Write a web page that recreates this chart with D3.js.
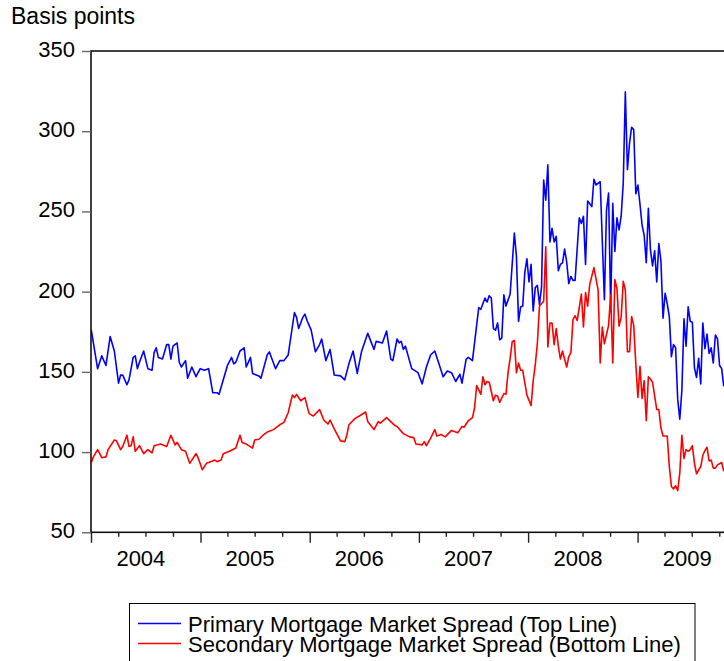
<!DOCTYPE html>
<html>
<head>
<meta charset="utf-8">
<script src="https://cdn.jsdelivr.net/npm/d3@7"></script>
<style>
  body { margin: 0; background: #fff; }
  text { font-family: "Liberation Sans", Arial, sans-serif; }
</style>
</head>
<body>
<script>
const width = 724, height = 661;

// weekly data, week index counted from the first Friday of 2004
const startDate = new Date(2004, 0, 2);

// [week, basis points]
const primary = [[0,176],[3,152],[5,160],[7,154],[9,172],[11,163],[13,143],[14,148],[15,148],[17,142],[18,145],[20,159],[21,160],[22,152],[23,156],[25,163],[27,152],[29,151],[30,162],[31,165],[32,159],[34,158],[36,167],[37,167],[38,158],[39,166],[41,168],[42,156],[43,153],[45,157],[46,146],[48,153],[50,147],[52,152],[54,151],[56,152],[58,137],[60,137],[61,136],[65,154],[67,159],[68,155],[69,156],[71,163],[73,165],[74,153],[76,159],[77,149],[80,147.5],[81,146],[84,160.5],[85,162.5],[88,152],[90,157],[92,157],[94,160.5],[97,187],[98,184],[99,177],[101,184],[102,186],[103,182],[105,176],[107,162.5],[109,167],[110,170.5],[112,157],[114,164],[116,148],[119,147.5],[121,145],[123,155],[125,163],[127,149],[129,162.5],[132,174],[135,164],[136,169],[139,168],[141,175.5],[143,158],[144,157],[146,170.5],[147,168],[148,169],[149,164],[150,166],[153,152],[156,149.5],[158,142.5],[160,153],[162,160.5],[164,163],[166,155],[168,147],[170,150.5],[172,149.5],[174,144],[176,148.5],[177,143],[179,158],[180,159],[182,157],[185,190],[186,189],[188,196],[189,193.5],[190,197.5],[191,196],[192,177],[193,176],[194,180.5],[195,170],[196,171],[197,198],[198,191],[200,198.5],[202,236.5],[203,222],[204,181.5],[205,190.5],[206,191],[207,212],[208,220.5],[209,206],[210,217],[211,188],[212,202.5],[213,204],[214,192],[215,203],[216,269.5],[217,257],[218,279],[219,231],[220,239.5],[221,231],[222,234.5],[223,213],[224,217],[225,218],[226,226.5],[227,218.5],[228,205],[229,209.5],[230,207],[231,207],[233,246],[234,242.5],[235,247],[236,217],[237,256.5],[239,253],[240,270],[241,266.5],[243,268.5],[245,195],[246,250.5],[247,261.5],[248,190],[249,255],[250,225],[251,246],[252,238.5],[253,247],[254,267.5],[255,324.5],[256,276],[257,292.5],[258,302.5],[259,301],[260,261],[261,266.5],[262,254.5],[263,241.5],[264,235],[265,218],[266,252],[267,226],[268,216],[269,225.5],[270,206],[271,230],[272,219],[273,183.5],[274,199],[275,192.5],[276,184.5],[277,159.5],[278,167],[279,165],[280,133],[281,120.5],[282,138.5],[283,183],[284,166],[285,190.5],[286,181.5],[287,181],[288,152.5],[289,146.5],[290,158.5],[291,142.5],[292,180.5],[293,164.5],[294,173.5],[295,161.5],[296,165],[297,155.5],[298,173],[299,170.5],[300,154],[301,152],[302,141]];

const secondary = [[0,93.5],[1,97],[3,101.5],[5,96.5],[7,97],[8,101.5],[11,107.5],[12,107],[14,101.5],[15,103.5],[17,110.5],[18,103.5],[19,104],[20,109.5],[21,100.5],[23,104],[25,99],[27,101.5],[29,99.5],[30,104],[33,105],[34,104.5],[36,103.5],[38,110.5],[40,104.5],[41,106],[43,101.5],[45,100.5],[47,93],[50,99],[51,96.5],[53,89],[55,93],[57,94],[59,95],[60,94],[62,95],[63,99],[66,100.5],[69,102.5],[71,110.5],[72,106],[74,105],[77,102.5],[78,107.5],[80,108],[82,110.5],[84,112.5],[87,114],[90,117],[92,118.5],[94,124.5],[96,135.5],[97,134],[98,136],[100,132],[102,134],[104,124],[106,122.5],[109,126.5],[111,120],[113,117.5],[114,120],[116,114.5],[119,107],[121,106.5],[122,110.5],[123,117],[126,121],[128,122.5],[131,125],[132,119],[135,114],[137,119],[138,118],[141,121.5],[143,119],[145,116.5],[146,116],[149,111.5],[152,109.5],[154,109],[155,105],[158,104.5],[159,106.5],[160,104],[162,108.5],[164,114],[165,110],[167,111],[169,109.5],[172,113.5],[175,112],[177,116],[178,115.5],[180,119.5],[182,121.5],[183,127.5],[184,141.5],[186,136],[187,147],[188,142],[189,144],[190,143.5],[192,132],[193,135.5],[194,135],[195,131],[197,136.5],[198,136],[199,149.5],[200,158.5],[201,169],[202,169.5],[203,149.5],[204,155.5],[205,151],[206,151],[208,135.5],[210,129],[211,144.5],[212,154.5],[213,168],[214,191],[216,194],[217,228],[218,165.5],[219,180.5],[220,180.5],[221,167],[222,177],[223,166],[224,158],[225,163],[227,153],[228,159.5],[229,162],[230,182.5],[231,185],[232,182],[234,198.5],[235,178],[236,199.5],[237,191],[238,204.5],[240,215],[242,201],[243,155.5],[244,178],[245,167.5],[247,179],[248,198],[249,155.5],[250,207.5],[251,202],[252,178.5],[253,184],[254,206.5],[255,201],[256,162.5],[257,162.5],[258,184.5],[259,179],[260,155],[261,134],[262,153.5],[263,133.5],[264,144.5],[265,119.5],[266,147],[267,145.5],[268,143.5],[270,126.5],[271,126.5],[272,115],[273,110],[275,110],[276,91],[277,78.5],[278,77],[279,79],[280,76],[281,87],[282,110.5],[283,96],[284,101.5],[285,100.5],[286,101.5],[287,104],[288,93],[289,86.5],[291,91],[292,98],[293,101],[294,103],[295,94.5],[296,95],[297,90],[298,90],[299,92],[301,93.5],[302,88]];

const yTicks = [50, 100, 150, 200, 250, 300, 350];
const years = [2004, 2005, 2006, 2007, 2008, 2009];
const legendLabels = ["Primary Mortgage Market Spread (Top Line)", "Secondary Mortgage Market Spread (Bottom Line)"];
const colors = ["#0000ff", "#ff0000"];

const plotLeft = 91, plotTop = 51, plotBottom = 532.3;
const yearPx = 109.3;

const svg = d3.select("body").append("svg")
    .attr("width", width)
    .attr("height", height);

const x = d3.scaleTime()
    .domain([new Date(2004, 0, 1), new Date(2010, 0, 1)])
    .range([plotLeft, plotLeft + 6 * yearPx]);

const y = d3.scaleLinear()
    .domain([50, 350])
    .range([plotBottom, plotTop]);

const toDate = w => d3.timeDay.offset(startDate, 7 * w);

svg.append("text")
    .attr("x", 11)
    .attr("y", 24)
    .attr("font-size", 23)
    .attr("fill", "#000")
    .text("Basis points");

// plot lines, clipped to the frame
svg.append("clipPath").attr("id", "plot")
  .append("rect")
    .attr("x", plotLeft).attr("y", plotTop)
    .attr("width", 6 * yearPx).attr("height", plotBottom - plotTop);

const line = d3.line()
    .x(d => x(toDate(d[0])))
    .y(d => y(d[1]));

const series = [primary, secondary];
svg.append("g").attr("clip-path", "url(#plot)")
  .selectAll("path")
  .data(series)
  .join("path")
    .attr("d", line)
    .attr("fill", "none")
    .attr("stroke", (d, i) => colors[i])
    .attr("stroke-width", 1.6)
    .attr("stroke-linejoin", "round");

// frame
svg.append("rect")
    .attr("x", plotLeft).attr("y", plotTop)
    .attr("width", 6 * yearPx).attr("height", plotBottom - plotTop)
    .attr("fill", "none")
    .attr("stroke", "#111")
    .attr("stroke-width", 1.6);

// y axis
const yAxis = svg.append("g")
    .attr("transform", `translate(${plotLeft},0)`)
    .call(d3.axisLeft(y).tickValues(yTicks).tickSize(9).tickPadding(7));
yAxis.select(".domain").remove();
yAxis.selectAll("line").attr("stroke", "#666").attr("stroke-width", 1.4);
yAxis.selectAll("text")
    .attr("font-size", 22)
    .attr("font-family", "'Liberation Sans', Arial, sans-serif")
    .attr("fill", "#000")
    .attr("dy", "0.25em");

// x axis: quarterly ticks, longer at the year boundaries
const xAxis = svg.append("g")
    .attr("transform", `translate(0,${plotBottom})`)
    .call(d3.axisBottom(x)
        .tickValues(d3.timeMonth.range(new Date(2004, 0, 1), new Date(2010, 0, 1), 3))
        .tickSize(4.5)
        .tickFormat(""));
xAxis.select(".domain").remove();
xAxis.selectAll("line")
    .attr("stroke", "#222")
    .attr("stroke-width", 1.4)
    .attr("y2", d => d.getMonth() === 0 ? 10.5 : 4.5);

const xLabels = svg.append("g")
    .attr("transform", `translate(0,${plotBottom})`)
    .call(d3.axisBottom(x)
        .tickValues(years.map(yr => new Date(yr, 5, 14)))
        .tickSize(0)
        .tickPadding(18)
        .tickFormat(d3.timeFormat("%Y")));
xLabels.select(".domain").remove();
xLabels.selectAll("text")
    .attr("font-size", 22)
    .attr("font-family", "'Liberation Sans', Arial, sans-serif")
    .attr("fill", "#000");

// legend
const legend = svg.append("g");
legend.append("rect")
    .attr("x", 129.5).attr("y", 603.5)
    .attr("width", 565.5).attr("height", 80)
    .attr("fill", "#fff")
    .attr("stroke", "#000")
    .attr("stroke-width", 1);

legendLabels.forEach((label, i) => {
  const ly = 623.5 + i * 20;
  legend.append("line")
      .attr("x1", 138).attr("x2", 181)
      .attr("y1", ly).attr("y2", ly)
      .attr("stroke", colors[i])
      .attr("stroke-width", 1.6);
  legend.append("text")
      .attr("x", 188)
      .attr("y", ly + 8)
      .attr("font-size", 22)
      .attr("fill", "#000")
      .text(label);
});
</script>
</body>
</html>
